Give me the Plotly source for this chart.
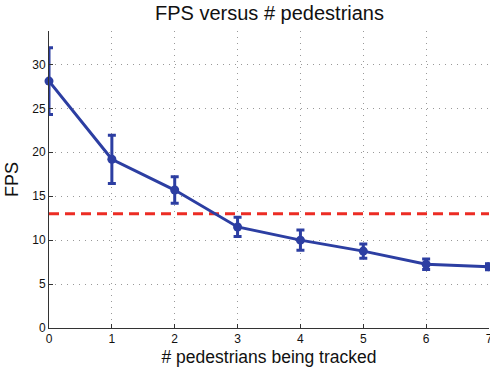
import plotly.graph_objects as go

# Tracking throughput measurements
n_pedestrians = [0, 1, 2, 3, 4, 5, 6, 7]
fps_mean = [28.1, 19.2, 15.7, 11.5, 10.0, 8.75, 7.25, 6.97]
fps_err = [3.8, 2.75, 1.5, 1.1, 1.15, 0.8, 0.6, 0.35]
realtime_fps = 13

x_ticks = [0, 1, 2, 3, 4, 5, 6, 7]
y_ticks = [0, 5, 10, 15, 20, 25, 30]

BLUE = "rgb(44, 62, 162)"
RED = "rgb(236, 44, 36)"
FONT = "Liberation Sans, Arial, Helvetica, sans-serif"

fig = go.Figure()

# Real-time threshold
fig.add_trace(go.Scatter(
    x=[n_pedestrians[0], n_pedestrians[-1]],
    y=[realtime_fps, realtime_fps],
    mode="lines",
    line=dict(color=RED, width=3, dash="10px,6px"),
    hoverinfo="skip",
    showlegend=False,
))

# Mean FPS line with error bars (clipped to the axes)
fig.add_trace(go.Scatter(
    x=n_pedestrians,
    y=fps_mean,
    mode="lines",
    line=dict(color=BLUE, width=3),
    error_y=dict(type="data", array=fps_err, color=BLUE, thickness=3, width=4),
    cliponaxis=True,
    showlegend=False,
))

# Markers drawn on top, not clipped
fig.add_trace(go.Scatter(
    x=n_pedestrians,
    y=fps_mean,
    mode="markers",
    marker=dict(color=BLUE, size=9),
    cliponaxis=False,
    showlegend=False,
))

axis_common = dict(
    showline=True,
    linecolor="#333333",
    linewidth=1,
    ticks="inside",
    ticklen=4,
    tickcolor="#333333",
    showgrid=True,
    gridcolor="#999999",
    griddash="1px,5px",
    gridwidth=1,
    zeroline=False,
    tickfont=dict(family=FONT, size=12, color="#111111"),
    ticklabeloverflow="allow",
    mirror=False,
)

fig.update_xaxes(
    range=[0, 7],
    tickvals=x_ticks,
    title=dict(text="# pedestrians being tracked", font=dict(family=FONT, size=17.5, color="#111111"), standoff=5),
    **axis_common,
)
fig.update_yaxes(
    range=[0, 33.8],
    tickvals=y_ticks,
    title=dict(text="FPS", font=dict(family=FONT, size=18, color="#111111"), standoff=8),
    **axis_common,
)

fig.update_layout(
    width=490,
    height=370,
    margin=dict(l=49, r=1, t=31, b=42, autoexpand=False),
    plot_bgcolor="white",
    paper_bgcolor="white",
    title=dict(
        text="FPS versus # pedestrians",
        font=dict(family=FONT, size=20, color="#111111"),
        x=0.55,
        xanchor="center",
        y=0.965,
        yanchor="middle",
    ),
)

fig.write_html("out.html")
